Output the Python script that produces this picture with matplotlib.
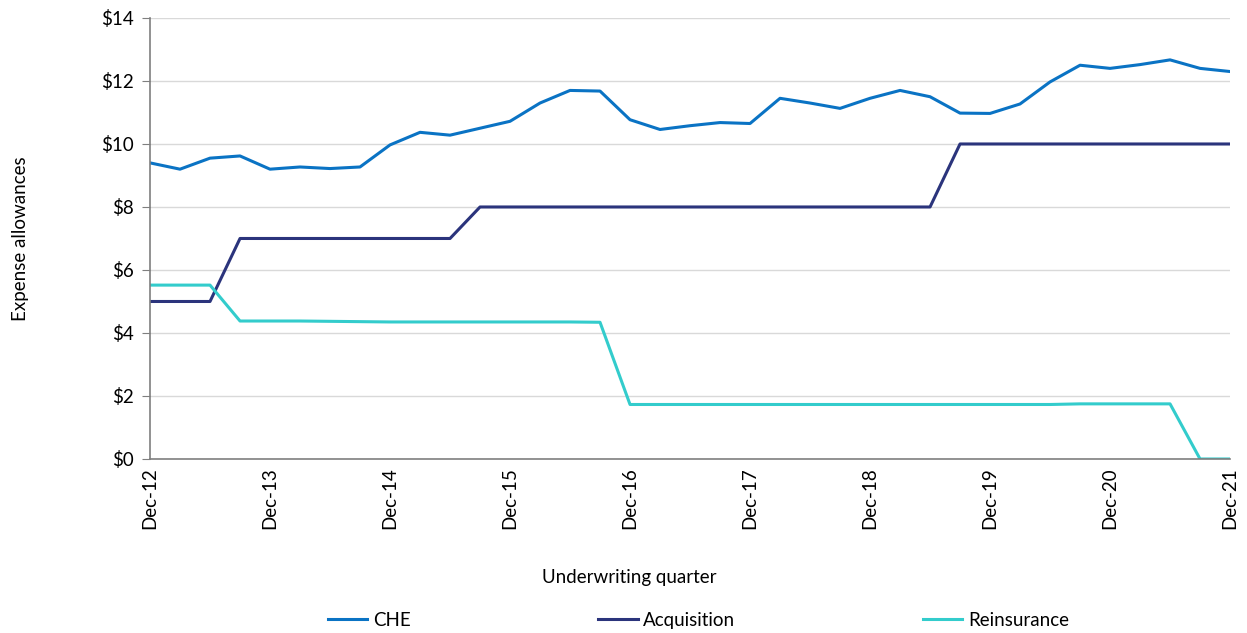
import numpy as np
import matplotlib
matplotlib.use("Agg")
import matplotlib.pyplot as plt

plt.rcParams["font.family"] = ["Lato", "DejaVu Sans"]

# quarterly points, Dec-12 .. Dec-21
years = [f"Dec-{y}" for y in range(12, 22)]
che = [9.40, 9.20, 9.55, 9.62, 9.20, 9.27, 9.22, 9.27, 9.97, 10.37,
       10.28, 10.50, 10.72, 11.30, 11.70, 11.68, 10.77, 10.46, 10.58, 10.68,
       10.65, 11.45, 11.30, 11.13, 11.45, 11.70, 11.50, 10.98, 10.97, 11.27,
       11.97, 12.50, 12.40, 12.52, 12.67, 12.40, 12.30]
acquisition = [5.0, 5.0, 5.0, 7.0, 7.0, 7.0, 7.0, 7.0, 7.0, 7.0,
               7.0, 8.0, 8.0, 8.0, 8.0, 8.0, 8.0, 8.0, 8.0, 8.0,
               8.0, 8.0, 8.0, 8.0, 8.0, 8.0, 8.0, 10.0, 10.0, 10.0,
               10.0, 10.0, 10.0, 10.0, 10.0, 10.0, 10.0]
reinsurance = [5.52, 5.52, 5.52, 4.38, 4.38, 4.38, 4.37, 4.36, 4.35, 4.35,
               4.35, 4.35, 4.35, 4.35, 4.35, 4.34, 1.73, 1.73, 1.73, 1.73,
               1.73, 1.73, 1.73, 1.73, 1.73, 1.73, 1.73, 1.73, 1.73, 1.73,
               1.73, 1.75, 1.75, 1.75, 1.75, 0.0, 0.0]

fig = plt.figure(figsize=(12.47, 6.33), dpi=100)
ax = fig.add_axes([0.1203, 0.2749, 0.8661, 0.6967])

x = np.arange(len(che))
ax.plot(x, che, color="#0a73c4", lw=2.2, label="CHE")
ax.plot(x, acquisition, color="#2b347c", lw=2.2, label="Acquisition")
ax.plot(x, reinsurance, color="#33cccc", lw=2.2, label="Reinsurance")

ax.set_xlim(0, len(che) - 1)
ax.set_ylim(0, 14)
ax.set_yticks(range(0, 15, 2))
ax.set_yticklabels([f"${v}" for v in range(0, 15, 2)], fontsize=13.5)
ax.set_xticks(range(0, len(che), 4))
ax.set_xticklabels(years, rotation=90, fontsize=13.5)
ax.tick_params(axis="x", length=0, pad=6)
ax.tick_params(axis="y", length=6, color="#7f7f7f", direction="out", pad=6)
ax.grid(axis="y", color="#d9d9d9", lw=1)
ax.set_axisbelow(True)
for s in ["top", "right"]:
    ax.spines[s].set_visible(False)
for s in ["left", "bottom"]:
    ax.spines[s].set_color("#7f7f7f")
    ax.spines[s].set_linewidth(1.2)

ax.set_ylabel("Expense allowances", fontsize=13.5)
ax.yaxis.set_label_coords(-0.112, 0.5)
fig.text(0.505, 0.087, "Underwriting quarter", ha="center", va="center", fontsize=13.5)

fig.legend(loc="center", bbox_to_anchor=(0.56, 0.02), ncol=3, frameon=False,
           fontsize=13.5, columnspacing=10, handlelength=2.1, handletextpad=0.3)

fig.savefig("out.png", dpi=100)
